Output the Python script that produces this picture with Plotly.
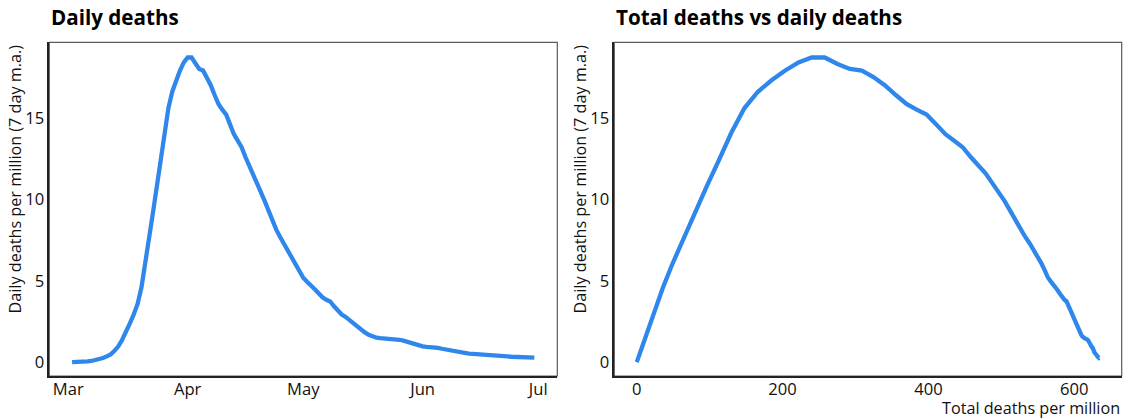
import pandas as pd
import plotly.graph_objects as go
from plotly.subplots import make_subplots

# ---------------- data ----------------
dates = pd.date_range("2020-03-02", "2020-06-30", freq="D")

daily_deaths = [
    0.03, 0.03, 0.04, 0.05, 0.07, 0.10, 0.14, 0.20, 0.28, 0.38,
    0.50, 0.72, 1.00, 1.40, 1.85, 2.40, 2.95, 3.60, 4.60, 6.00,
    7.60, 9.20, 10.80, 12.40, 14.10, 15.60, 16.60, 17.30, 17.90, 18.40,
    18.70, 18.70, 18.30, 18.00, 17.90, 17.50, 17.00, 16.40, 15.85, 15.50,
    15.20, 14.60, 14.00, 13.60, 13.20, 12.60, 12.10, 11.60, 11.00, 10.45,
    9.90, 9.30, 8.70, 8.15, 7.70, 7.30, 6.90, 6.45, 6.10, 5.65,
    5.20, 4.95, 4.75, 4.50, 4.25, 4.00, 3.85, 3.75, 3.45, 3.20,
    2.95, 2.80, 2.60, 2.40, 2.20, 2.00, 1.85, 1.70, 1.60, 1.53,
    1.50, 1.49, 1.47, 1.46, 1.43, 1.40, 1.35, 1.27, 1.20, 1.14,
    1.07, 1.00, 0.96, 0.95, 0.94, 0.90, 0.85, 0.80, 0.75, 0.70,
    0.64, 0.60, 0.57, 0.55, 0.53, 0.52, 0.51, 0.50, 0.48, 0.46,
    0.44, 0.42, 0.40, 0.38, 0.36, 0.34, 0.32, 0.30, 0.29, 0.29,
    0.30,
]

total_deaths = [
    0.0, 0.1, 0.2, 0.3, 0.5, 0.7, 1.0, 1.5, 2.1, 2.9,
    3.9, 5.6, 7.8, 10.9, 14.4, 18.7, 23.0, 28.1, 36.0, 48.5,
    64.1, 80.4, 96.0, 112.6, 129.9, 147.8, 166.2, 184.9, 203.6, 221.9,
    239.9, 257.8, 275.3, 292.3, 308.7, 324.6, 340.1, 355.3, 369.9, 383.9,
    397.5, 410.7, 423.3, 435.4, 447.0, 458.0, 468.4, 478.3, 487.6, 496.3,
    504.5, 512.2, 519.5, 526.4, 532.8, 538.9, 544.6, 549.8, 554.7, 559.5,
    564.0, 568.2, 572.2, 576.1, 579.8, 583.3, 586.5, 589.4, 592.2, 594.8,
    597.2, 599.4, 601.4, 603.3, 605.0, 606.6, 608.1, 609.6, 611.1, 612.2,
    613.3, 614.4, 615.4, 616.4, 617.4, 618.3, 619.2, 619.9, 620.6, 621.3,
    622.0, 622.7, 623.4, 624.1, 624.8, 625.4, 626.1, 626.4, 626.8, 627.1,
    627.4, 627.8, 628.1, 628.4, 628.7, 629.1, 629.4, 629.7, 630.1, 630.4,
    630.7, 631.0, 631.4, 631.7, 632.0, 632.4, 632.7, 633.0, 633.3, 633.7,
    634.0,
]

month_ticks = ["2020-03-01", "2020-04-01", "2020-05-01", "2020-06-01", "2020-07-01"]
month_labels = ["Mar", "Apr", "May", "Jun", "Jul"]
daily_ticks = [0, 5, 10, 15]
total_ticks = [0, 200, 400, 600]

titles = ["Daily deaths", "Total deaths vs daily deaths"]
y_title = "Daily deaths per million (7 day m.a.)"
x2_title = "Total deaths per million"

# ---------------- style ----------------
W, H = 1128, 419
BLUE = "#2F87EC"
FONT = "Open Sans"
TXT = "#111111"
FS = 16.6      # tick labels
FT = 16.2      # axis titles


def fx(px):
    return px / W


def fy(py):
    return 1 - py / H


fig = make_subplots(rows=1, cols=2)
fig.add_trace(go.Scatter(x=dates, y=daily_deaths, mode="lines",
                         line=dict(color=BLUE, width=4.3), hoverinfo="skip"), 1, 1)
fig.add_trace(go.Scatter(x=total_deaths, y=daily_deaths, mode="lines",
                         line=dict(color=BLUE, width=4.3), hoverinfo="skip"), 1, 2)

fig.update_layout(
    width=W, height=H,
    margin=dict(l=0, r=0, t=0, b=0),
    showlegend=False,
    plot_bgcolor="white", paper_bgcolor="white",
    font=dict(family=FONT, size=FS, color=TXT),
)

common_axis = dict(showgrid=False, zeroline=False, showline=True, linecolor="#222222",
                   linewidth=1.6, automargin=False,
                   tickfont=dict(family=FONT, size=FS, color=TXT))
x_ticks_style = dict(ticks="outside", ticklen=0, tickwidth=0, ticklabelstandoff=-3)

ydom = [fy(376), fy(42.3)]
yrange = [-0.82, 19.63]

fig.update_xaxes(common_axis, row=1, col=1, domain=[fx(49.3), fx(557.3)],
                 range=["2020-02-25 02:00", "2020-07-05 23:00"],
                 tickvals=month_ticks, ticktext=month_labels, **x_ticks_style)
fig.update_xaxes(common_axis, row=1, col=2, domain=[fx(614.3), fx(1121.7)],
                 range=[-30.7, 665.0], tickvals=total_ticks, **x_ticks_style)
fig.update_yaxes(common_axis, row=1, col=1, domain=ydom, range=yrange,
                 tickvals=daily_ticks, ticks="")
fig.update_yaxes(common_axis, row=1, col=2, domain=ydom, range=yrange,
                 tickvals=daily_ticks, ticks="")

# y axis titles (top-aligned, as in the reference)
for xpx in [14.5, 579.5]:
    fig.add_annotation(text=y_title, textangle=-90, xref="paper", yref="paper",
                       x=fx(xpx), y=fy(42.5), xanchor="center", yanchor="top",
                       showarrow=False, font=dict(family=FONT, size=FT, color=TXT))

# panel borders (grey top/right)
for xr, yr in [("x domain", "y domain"), ("x2 domain", "y2 domain")]:
    fig.add_shape(type="rect", xref=xr, yref=yr, x0=0, x1=1, y0=0, y1=1,
                  line=dict(color="#5a5a5a", width=1.2), layer="below")

# panel titles
for xr, t in [("x domain", titles[0]), ("x2 domain", titles[1])]:
    fig.add_annotation(text="<b>" + t + "</b>", xref=xr, yref="paper", x=0, y=fy(17),
                       xanchor="left", yanchor="middle", showarrow=False,
                       font=dict(family=FONT, size=20.6, color="#000000"))

# x title of right panel (right aligned)
fig.add_annotation(text=x2_title, xref="x2 domain", yref="paper", x=1, y=fy(407.5),
                   xanchor="right", yanchor="middle", showarrow=False,
                   font=dict(family=FONT, size=FT, color=TXT))

fig.write_html("out.html", config={"displayModeBar": False},
               post_script="document.body.style.margin='0px';")
